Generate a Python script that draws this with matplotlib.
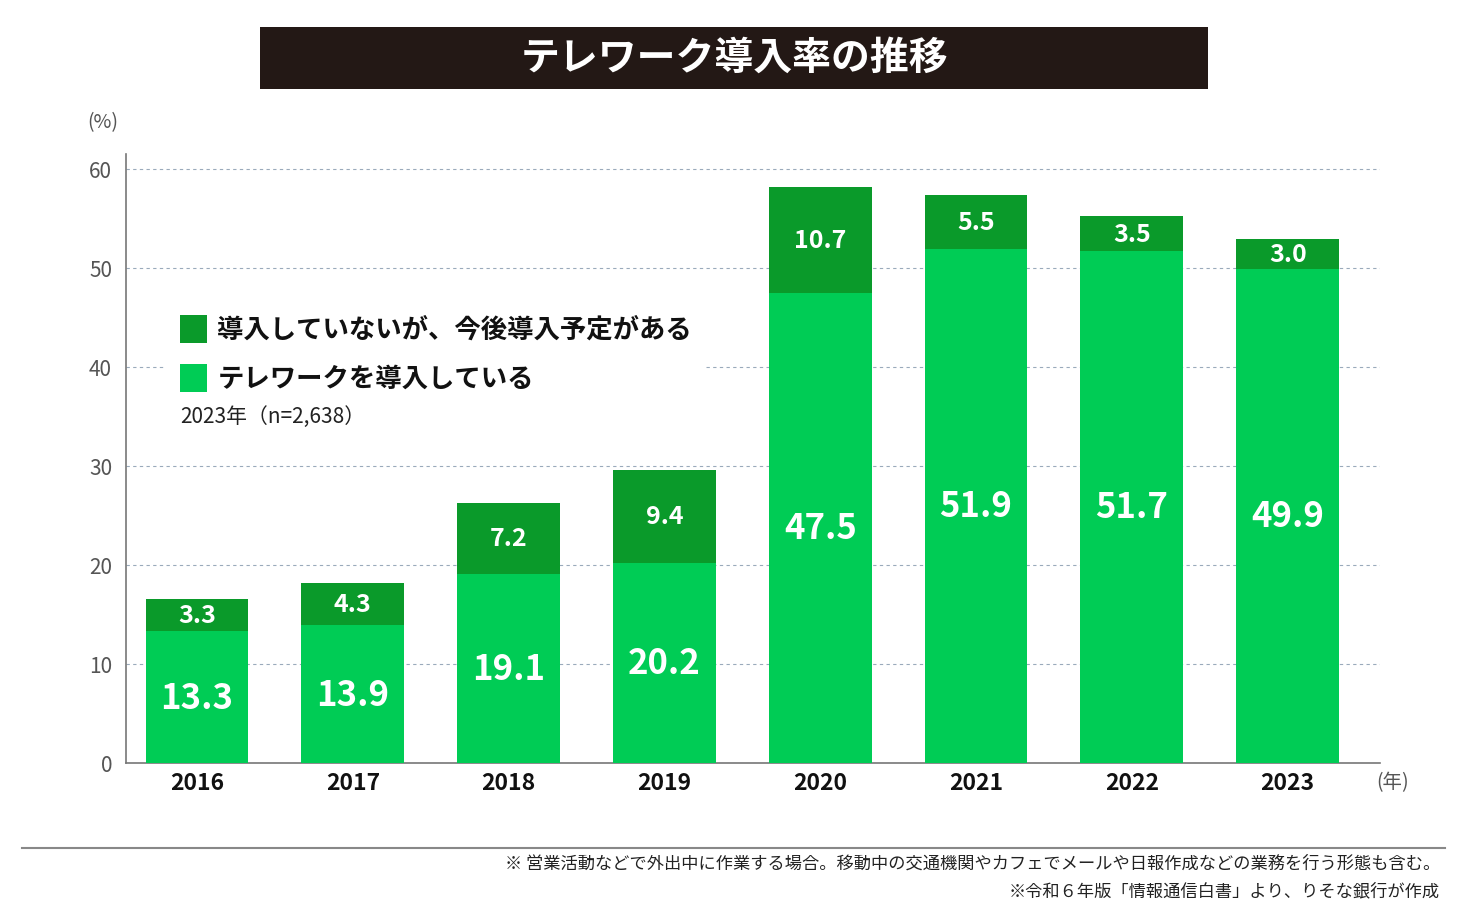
import matplotlib
matplotlib.use("Agg")
import matplotlib.pyplot as plt
from matplotlib.patches import Rectangle

plt.rcParams['font.family'] = ['Noto Sans CJK JP', 'DejaVu Sans']

years = ["2016", "2017", "2018", "2019", "2020", "2021", "2022", "2023"]
introduced = [13.3, 13.9, 19.1, 20.2, 47.5, 51.9, 51.7, 49.9]
planned = [3.3, 4.3, 7.2, 9.4, 10.7, 5.5, 3.5, 3.0]
yticks = [0, 10, 20, 30, 40, 50, 60]

c_light = "#00cc55"
c_dark = "#0a9a2a"

fig = plt.figure(figsize=(14.68, 9.2), dpi=100)
ax = fig.add_axes([0.0858, 0.1696, 0.854, 0.662])

x = list(range(len(years)))
ax.bar(x, introduced, width=0.66, color=c_light, zorder=3)
ax.bar(x, planned, width=0.66, bottom=introduced, color=c_dark, zorder=3)

for i in x:
    ax.text(i, introduced[i] / 2, f"{introduced[i]:.1f}", ha="center", va="center",
            color="white", fontsize=25, fontweight="bold", zorder=4)
    ax.text(i, introduced[i] + planned[i] / 2, f"{planned[i]:.1f}", ha="center", va="center",
            color="white", fontsize=18, fontweight="bold", zorder=4)

ax.set_xlim(-0.456, 7.59)
ax.set_ylim(0, 61.5)
ax.set_yticks(yticks)
ax.set_xticks(x)
ax.set_xticklabels(years, fontsize=16.5, fontweight="bold", color="#111111")
ax.tick_params(axis="y", length=0, labelsize=15, labelcolor="#555555", pad=10)
ax.tick_params(axis="x", length=0, pad=6)
ax.yaxis.grid(True, linestyle=(0, (3, 3)), color="#9aaabb", linewidth=0.8, zorder=0)
for s in ["top", "right"]:
    ax.spines[s].set_visible(False)
ax.spines["left"].set_color("#777777")
ax.spines["bottom"].set_color("#777777")
ax.spines["left"].set_linewidth(1.2)
ax.spines["bottom"].set_linewidth(1.2)

# legend area
ax.add_patch(Rectangle((-0.2, 36.3), 3.46, 10.5, facecolor="white", edgecolor="none", zorder=2))
ax.add_patch(Rectangle((-0.11, 42.4), 0.175, 2.8, facecolor=c_dark, edgecolor="none", zorder=4))
ax.add_patch(Rectangle((-0.11, 37.5), 0.175, 2.8, facecolor=c_light, edgecolor="none", zorder=4))
ax.text(0.13, 43.8, "導入していないが、今後導入予定がある", fontsize=19, fontweight="bold",
        va="center", ha="left", color="#111111", zorder=4)
ax.text(0.13, 38.9, "テレワークを導入している", fontsize=19, fontweight="bold",
        va="center", ha="left", color="#111111", zorder=4)
ax.text(-0.11, 35.0, "2023年（n=2,638）", fontsize=15, va="center", ha="left",
        color="#222222", zorder=4)

fig.text(103 / 1468, 1 - 123 / 920, "(%)", fontsize=14, color="#555555", ha="center", va="center")
fig.text(1393 / 1468, 1 - 783 / 920, "(年)", fontsize=14, color="#555555", ha="center", va="center")

# title box
fig.patches.append(Rectangle((260 / 1468, 1 - 90 / 920), 948 / 1468, 62 / 920,
                             transform=fig.transFigure, facecolor="#231815", edgecolor="none"))
fig.text(734 / 1468, 1 - 58 / 920, "テレワーク導入率の推移", fontsize=28, fontweight="bold",
         color="white", ha="center", va="center")

# footer
fig.add_artist(plt.Line2D([22 / 1468, 1445 / 1468], [1 - 849 / 920, 1 - 849 / 920],
                          transform=fig.transFigure, color="#888888", linewidth=1.5))
fig.text(1440 / 1468, 1 - 864 / 920,
         "※ 営業活動などで外出中に作業する場合。移動中の交通機関やカフェでメールや日報作成などの業務を行う形態も含む。",
         fontsize=12.4, color="#222222", ha="right", va="center")
fig.text(1440 / 1468, 1 - 891 / 920, "※令和６年版「情報通信白書」より、りそな銀行が作成",
         fontsize=12.4, color="#222222", ha="right", va="center")

fig.savefig("out.png", dpi=100)
